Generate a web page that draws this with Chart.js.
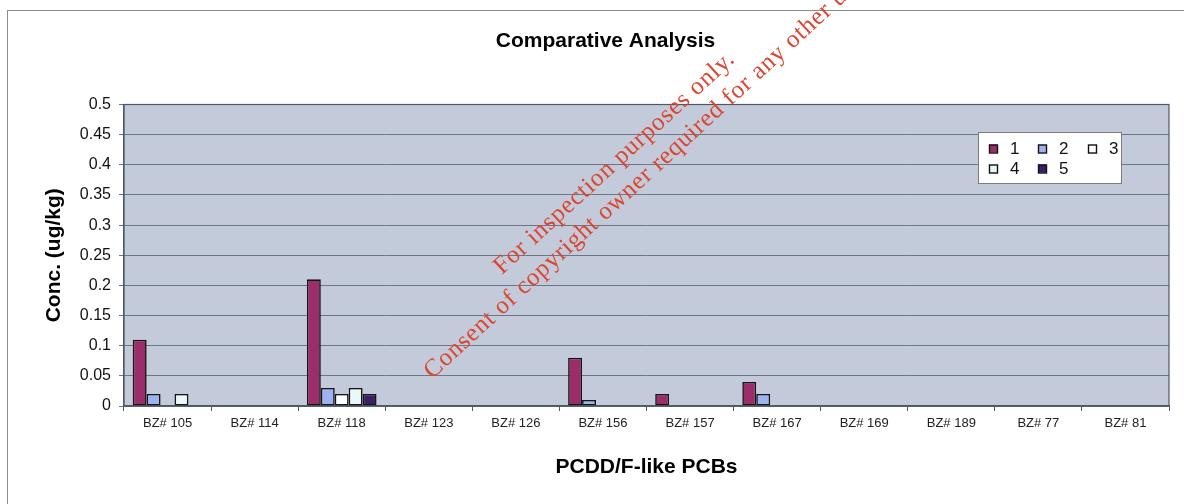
<!DOCTYPE html>
<html>
<head>
<meta charset="utf-8">
<script src="https://cdn.jsdelivr.net/npm/chart.js@4"></script>
<style>
  html, body { margin: 0; padding: 0; background: #ffffff; }
  #wrap { position: relative; width: 1184px; height: 504px; overflow: hidden; }
  #frame { position: absolute; left: 7px; top: 9.5px; width: 1220px; height: 540px;
           border: 1.5px solid #8c8c8c; box-sizing: border-box; }
  #c { position: absolute; left: 0; top: 0; }
</style>
</head>
<body>
<div id="wrap">
  <div id="frame"></div>
  <canvas id="c" width="1184" height="504"></canvas>
</div>
<script>
// PCB congeners on the x axis
const categories = ['BZ# 105', 'BZ# 114', 'BZ# 118', 'BZ# 123', 'BZ# 126', 'BZ# 156',
                    'BZ# 157', 'BZ# 167', 'BZ# 169', 'BZ# 189', 'BZ# 77', 'BZ# 81'];

// Concentrations (ug/kg) per sample; null = no bar
const sample1 = [0.11, null, 0.21, null, null, 0.08, 0.02, 0.04, null, null, null, null];
const sample2 = [0.02, null, 0.03, null, null, 0.01, null, 0.02, null, null, null, null];
const sample3 = [null, null, 0.02, null, null, null, null, null, null, null, null, null];
const sample4 = [0.02, null, 0.03, null, null, null, null, null, null, null, null, null];
const sample5 = [null, null, 0.02, null, null, null, null, null, null, null, null, null];

const sampleNames = ['1', '2', '3', '4', '5'];
const sampleColors = ['#9b2d6b', '#9eb2f0', '#ffffff', '#eaf9f5', '#3a1f68'];

// Value axis: 0 to 0.5 in steps of 0.05
const yTickLabels = ['0', '0.05', '0.1', '0.15', '0.2', '0.25', '0.3', '0.35', '0.4', '0.45', '0.5'];
const yMin = 0, yMax = 0.5, yStep = 0.05;

const FONT = "'Liberation Sans', Arial, sans-serif";

// Grey-blue plot background plus the outline of the plot area
const plotBackground = {
  id: 'plotBackground',
  beforeDraw(chart) {
    const { ctx, chartArea: a } = chart;
    ctx.save();
    ctx.fillStyle = '#c3cad9';
    ctx.fillRect(a.left, a.top, a.right - a.left, a.bottom - a.top);
    ctx.restore();
  },
  afterDatasetsDraw(chart) {
    const { ctx, chartArea: a } = chart;
    ctx.save();
    ctx.strokeStyle = '#4f5866';
    ctx.lineWidth = 1.2;
    ctx.strokeRect(a.left, a.top, a.right - a.left, a.bottom - a.top);
    ctx.restore();
  }
};

// Boxed legend laid out in a 3-column grid inside the plot
const gridLegend = {
  id: 'gridLegend',
  afterDraw(chart) {
    const ctx = chart.ctx;
    const box = { x: 978.5, y: 132.5, w: 143, h: 51 };
    const slots = [[989, 148.5], [1038, 148.5], [1088, 148.5], [989, 168.5], [1038, 168.5]];
    ctx.save();
    ctx.fillStyle = '#ffffff';
    ctx.fillRect(box.x, box.y, box.w, box.h);
    ctx.strokeStyle = '#7c7c7c';
    ctx.lineWidth = 1;
    ctx.strokeRect(box.x, box.y, box.w, box.h);
    ctx.font = '17px ' + FONT;
    ctx.textBaseline = 'middle';
    ctx.textAlign = 'left';
    chart.data.datasets.forEach((ds, i) => {
      const [sx, sy] = slots[i];
      ctx.fillStyle = ds.backgroundColor;
      ctx.fillRect(sx, sy - 4, 8, 8);
      ctx.strokeStyle = '#111111';
      ctx.lineWidth = 1.4;
      ctx.strokeRect(sx + 0.5, sy - 3.5, 8, 8);
      ctx.fillStyle = '#111111';
      ctx.fillText(ds.label, sx + 21, sy + 1);
    });
    ctx.restore();
  }
};

// Diagonal red stamp printed over the chart
const stamp = {
  id: 'stamp',
  afterDraw(chart) {
    const ctx = chart.ctx;
    ctx.save();
    ctx.translate(502, 275);
    ctx.rotate(-42.5 * Math.PI / 180);
    ctx.fillStyle = '#dc4630';
    ctx.font = "25px 'Liberation Serif', 'Times New Roman', serif";
    if ('letterSpacing' in ctx) ctx.letterSpacing = '0.8px';
    ctx.textBaseline = 'alphabetic';
    ctx.fillText('For inspection purposes only.', 0, 0);
    ctx.fillText('Consent of copyright owner required for any other use.', -122, 30);
    ctx.restore();
  }
};

const datasets = [sample1, sample2, sample3, sample4, sample5].map((vals, i) => ({
  label: sampleNames[i],
  data: vals,
  backgroundColor: sampleColors[i],
  borderColor: '#151515',
  borderWidth: 1.6,
  borderSkipped: false,
  categoryPercentage: 0.8,
  barPercentage: 1.0
}));

new Chart(document.getElementById('c'), {
  type: 'bar',
  data: { labels: categories, datasets },
  plugins: [plotBackground, gridLegend, stamp],
  options: {
    responsive: false,
    animation: false,
    devicePixelRatio: 1,
    layout: { padding: { left: 42, right: 15, top: 0, bottom: 0 } },
    plugins: {
      legend: { display: false },
      tooltip: { enabled: false },
      title: {
        display: true,
        text: 'Comparative Analysis',
        color: '#000000',
        font: { family: FONT, size: 21, weight: 'bold' },
        padding: { top: 28.9, bottom: 50.4 }
      }
    },
    scales: {
      x: {
        offset: true,
        grid: { display: true, drawOnChartArea: false, drawTicks: true, tickLength: 5,
                color: '#4f5866', offset: true },
        border: { display: true, color: '#4f5866', width: 1.2 },
        ticks: { color: '#222222', font: { family: FONT, size: 13 }, padding: 5,
                 maxRotation: 0, autoSkip: false },
        title: {
          display: true,
          text: 'PCDD/F-like PCBs',
          color: '#000000',
          font: { family: FONT, size: 21, weight: 'bold' },
          padding: { top: 0, bottom: 24.4 }
        },
        afterFit(scale) { scale.height = 98; }
      },
      y: {
        min: yMin,
        max: yMax,
        grid: { color: '#6c7684', lineWidth: 1, drawTicks: true, tickLength: 5 },
        border: { display: true, color: '#4f5866', width: 1.2 },
        ticks: {
          stepSize: yStep,
          color: '#111111',
          font: { family: FONT, size: 16 },
          padding: 8,
          callback: (value, index) => yTickLabels[index]
        },
        title: {
          display: true,
          text: 'Conc. (ug/kg)',
          color: '#000000',
          font: { family: FONT, size: 21, weight: 'bold' },
          padding: { top: 0, bottom: 0 }
        },
        afterFit(scale) { scale.width = 82; }
      }
    }
  }
});
</script>
</body>
</html>
